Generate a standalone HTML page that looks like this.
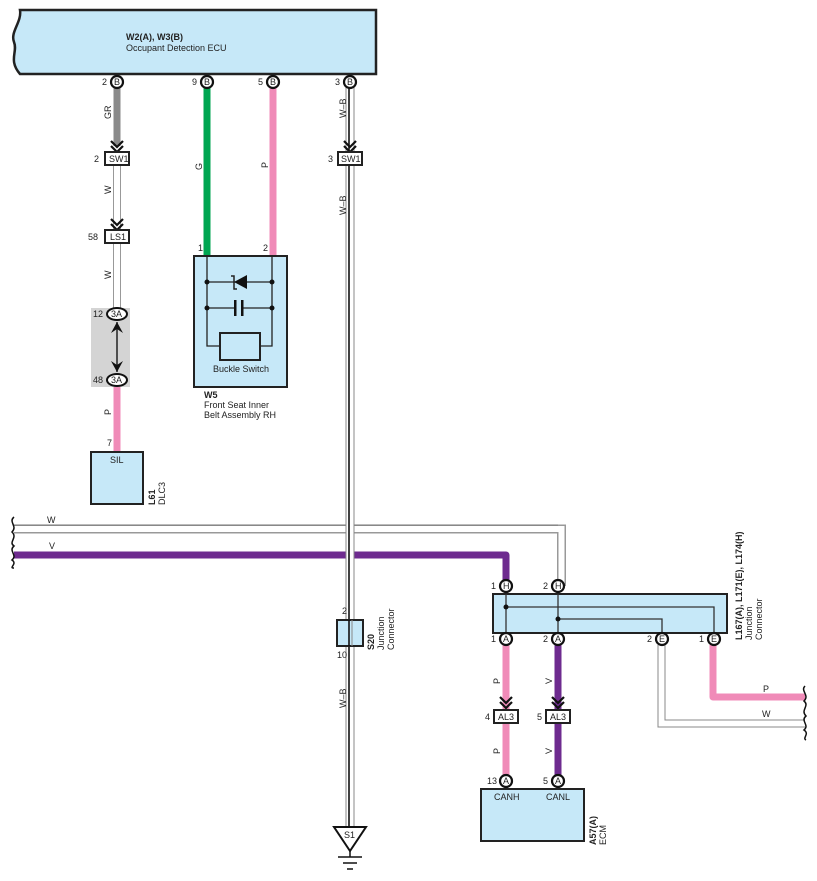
<!DOCTYPE html>
<html><head><meta charset="utf-8"><style>
html,body{margin:0;padding:0;background:#fff}
svg{display:block}
text{font-family:"Liberation Sans",sans-serif;font-size:9px;fill:#222}
.b{font-weight:bold}
</style></head><body>
<svg width="817" height="881" viewBox="0 0 817 881" xmlns="http://www.w3.org/2000/svg">
<defs>
<g id="chev"><path d="M-6,-9 L0,-3 L6,-9 M-6,-4 L0,2 L6,-4" fill="none" stroke="#111" stroke-width="2.2"/></g>
</defs>

<!-- ECU -->
<path d="M20,10 L376,10 L376,74 L20,74 C8,60 18,52 14,42 C10,32 22,22 20,10 Z" fill="#c6e8f8" stroke="#222" stroke-width="2.5"/>
<text x="126" y="40" class="b">W2(A), W3(B)</text>
<text x="126" y="51">Occupant Detection ECU</text>

<!-- GR wire -->
<line x1="117" y1="86" x2="117" y2="146" stroke="#8a8a8a" stroke-width="7"/>
<use href="#chev" x="117" y="150"/>
<!-- W wires -->
<line x1="117" y1="165" x2="117" y2="308" stroke="#999" stroke-width="8"/>
<line x1="117" y1="165" x2="117" y2="308" stroke="#fff" stroke-width="6"/>
<use href="#chev" x="117" y="228"/>
<rect x="105" y="152" width="24" height="13" fill="#fff" stroke="#222" stroke-width="2"/>
<text x="109" y="162">SW1</text><text x="94" y="162">2</text>
<rect x="105" y="230" width="24" height="13" fill="#fff" stroke="#222" stroke-width="2"/>
<text x="110" y="240">LS1</text><text x="88" y="240">58</text>
<text transform="translate(111,119) rotate(-90)">GR</text>
<text transform="translate(111,194) rotate(-90)">W</text>
<text transform="translate(111,279) rotate(-90)">W</text>

<!-- 3A -->
<rect x="91" y="308" width="39" height="79" fill="#d4d4d4"/>
<line x1="117" y1="322" x2="117" y2="372" stroke="#222" stroke-width="1.5"/>
<path d="M111,333 L117,322 L123,333 L117,329 Z" fill="#111"/>
<path d="M111,361 L117,372 L123,361 L117,365 Z" fill="#111"/>
<ellipse cx="117" cy="314" rx="10" ry="6" fill="#fff" stroke="#111" stroke-width="2"/>
<text x="111" y="317" font-size="8">3A</text><text x="93" y="317">12</text>
<ellipse cx="117" cy="380" rx="10" ry="6" fill="#fff" stroke="#111" stroke-width="2"/>
<text x="111" y="383" font-size="8">3A</text><text x="93" y="383">48</text>
<line x1="117" y1="387" x2="117" y2="452" stroke="#f08bb8" stroke-width="7"/>
<text transform="translate(111,415) rotate(-90)">P</text>
<text x="107" y="446">7</text>
<rect x="91" y="452" width="52" height="52" fill="#c6e8f8" stroke="#222" stroke-width="2"/>
<text x="110" y="463">SIL</text>
<text transform="translate(155,505) rotate(-90)" class="b">L61</text>
<text transform="translate(165,505) rotate(-90)">DLC3</text>

<!-- G and P to W5 -->
<line x1="207" y1="86" x2="207" y2="256" stroke="#00a651" stroke-width="7"/>
<line x1="273" y1="86" x2="273" y2="256" stroke="#f08bb8" stroke-width="7"/>
<text transform="translate(202,170) rotate(-90)">G</text>
<text transform="translate(268,168) rotate(-90)">P</text>
<text x="198" y="251">1</text><text x="263" y="251">2</text>
<rect x="194" y="256" width="93" height="131" fill="#c6e8f8" stroke="#222" stroke-width="2"/>
<g stroke="#222" stroke-width="1.3" fill="none">
<path d="M207,256 V346 H220 M272,256 V346 H260"/>
<line x1="207" y1="282" x2="272" y2="282"/>
<line x1="207" y1="308" x2="235" y2="308"/><line x1="243" y1="308" x2="272" y2="308"/>
<rect x="220" y="333" width="40" height="27" stroke-width="2"/>
<path d="M231,276 L234,276 L234,289 L237,289" stroke-width="1.5"/>
</g>
<path d="M234,282 L247,275 L247,289 Z" fill="#111"/>
<rect x="234" y="300" width="2.5" height="16" fill="#111"/><rect x="241" y="300" width="2.5" height="16" fill="#111"/>
<g fill="#111"><circle cx="207" cy="282" r="2.5"/><circle cx="272" cy="282" r="2.5"/><circle cx="207" cy="308" r="2.5"/><circle cx="272" cy="308" r="2.5"/></g>
<text x="213" y="372">Buckle Switch</text>
<text x="204" y="398" class="b">W5</text>
<text x="204" y="408">Front Seat Inner</text>
<text x="204" y="418">Belt Assembly RH</text>

<!-- horizontal W and V -->
<path d="M14,529 H561.5 V586" fill="none" stroke="#999" stroke-width="9"/>
<path d="M14,529 H561.5 V586" fill="none" stroke="#fff" stroke-width="6"/>
<line x1="14" y1="525" x2="558" y2="525" stroke="#777" stroke-width="1"/>
<path d="M14,555 H506 V586" fill="none" stroke="#6e2b8f" stroke-width="7" stroke-linejoin="round"/>
<text x="47" y="523">W</text><text x="49" y="549">V</text>
<path d="M14,517 C8,522 18,526 12,532 C18,538 8,542 14,546 C8,551 18,555 12,560 C18,564 8,568 14,568" fill="none" stroke="#111" stroke-width="1.5"/>

<!-- W-B wire -->
<line x1="350" y1="86" x2="350" y2="828" stroke="#888" stroke-width="9"/>
<line x1="350" y1="86" x2="350" y2="828" stroke="#fff" stroke-width="7"/>
<line x1="349" y1="86" x2="349" y2="828" stroke="#111" stroke-width="1.6"/>
<use href="#chev" x="350" y="150"/>
<rect x="338" y="152" width="24" height="13" fill="#fff" stroke="#222" stroke-width="2"/>
<text x="341" y="162">SW1</text><text x="328" y="162">3</text>
<text transform="translate(346,118) rotate(-90)">W–B</text>
<text transform="translate(346,215) rotate(-90)">W–B</text>
<text transform="translate(346,708) rotate(-90)">W–B</text>
<rect x="337" y="620" width="26" height="26" fill="#c6e8f8" stroke="#222" stroke-width="2"/>
<line x1="349" y1="620" x2="349" y2="646" stroke="#111" stroke-width="1.6"/>
<line x1="352" y1="620" x2="352" y2="646" stroke="#888" stroke-width="1"/>
<text x="342" y="614">2</text><text x="337" y="658">10</text>
<text transform="translate(374,650) rotate(-90)" class="b">S20</text>
<text transform="translate(384,650) rotate(-90)">Junction</text>
<text transform="translate(394,650) rotate(-90)">Connector</text>
<path d="M334,827 L366,827 L350,851 Z" fill="#fff" stroke="#111" stroke-width="2"/>
<text x="344" y="838">S1</text>
<g stroke="#111" stroke-width="1.5"><line x1="350" y1="851" x2="350" y2="857"/><line x1="338" y1="857" x2="362" y2="857"/><line x1="343" y1="863" x2="357" y2="863"/><line x1="347" y1="869" x2="353" y2="869"/></g>

<!-- top pins -->
<g fill="#fff" stroke="#111" stroke-width="2.2">
<circle cx="117" cy="82" r="6"/><circle cx="207" cy="82" r="6"/><circle cx="273" cy="82" r="6"/><circle cx="350" cy="82" r="6"/>
</g>
<g font-size="8"><text x="114" y="85">B</text><text x="204" y="85">B</text><text x="270" y="85">B</text><text x="347" y="85">B</text></g>
<text x="102" y="85">2</text><text x="192" y="85">9</text><text x="258" y="85">5</text><text x="335" y="85">3</text>

<!-- Junction connector L167 -->
<rect x="493" y="594" width="234" height="39" fill="#c6e8f8" stroke="#222" stroke-width="2"/>
<g stroke="#333" stroke-width="1.3" fill="none">
<line x1="506" y1="594" x2="506" y2="633"/><line x1="558" y1="594" x2="558" y2="633"/>
<path d="M506,607 H714 V633"/><path d="M558,619 H662 V633"/>
</g>
<circle cx="506" cy="607" r="2.5" fill="#111"/><circle cx="558" cy="619" r="2.5" fill="#111"/>
<text transform="translate(742,640) rotate(-90)" class="b">L167(A), L171(E), L174(H)</text>
<text transform="translate(752,640) rotate(-90)">Junction</text>
<text transform="translate(762,640) rotate(-90)">Connector</text>

<!-- lower wires -->
<line x1="506" y1="645" x2="506" y2="781" stroke="#f08bb8" stroke-width="7"/>
<line x1="558" y1="645" x2="558" y2="781" stroke="#6e2b8f" stroke-width="7"/>
<use href="#chev" x="506" y="706"/><use href="#chev" x="558" y="706"/>
<rect x="494" y="710" width="24" height="13" fill="#fff" stroke="#222" stroke-width="2"/>
<text x="498" y="720">AL3</text><text x="485" y="720">4</text>
<rect x="546" y="710" width="24" height="13" fill="#fff" stroke="#222" stroke-width="2"/>
<text x="550" y="720">AL3</text><text x="537" y="720">5</text>
<text transform="translate(500,684) rotate(-90)">P</text>
<text transform="translate(552,684) rotate(-90)">V</text>
<text transform="translate(500,754) rotate(-90)">P</text>
<text transform="translate(552,754) rotate(-90)">V</text>

<path d="M661.5,645 V723.5 H805" fill="none" stroke="#888" stroke-width="8"/>
<path d="M661.5,645 V723.5 H805" fill="none" stroke="#fff" stroke-width="6"/>
<path d="M713,645 V697 H805" fill="none" stroke="#f08bb8" stroke-width="7" stroke-linejoin="round"/>
<text x="763" y="692">P</text><text x="762" y="717">W</text>
<path d="M805,686 C800,691 810,695 804,701 C810,706 800,710 806,716 C800,721 810,725 804,730 C810,734 802,738 806,740" fill="none" stroke="#111" stroke-width="1.5"/>

<!-- pins -->
<g fill="#fff" stroke="#111" stroke-width="2.2">
<circle cx="506" cy="586" r="6"/><circle cx="558" cy="586" r="6"/>
<circle cx="506" cy="639" r="6"/><circle cx="558" cy="639" r="6"/><circle cx="662" cy="639" r="6"/><circle cx="714" cy="639" r="6"/>
<circle cx="506" cy="781" r="6"/><circle cx="558" cy="781" r="6"/>
</g>
<g font-size="8">
<text x="503" y="589">H</text><text x="555" y="589">H</text>
<text x="503" y="642">A</text><text x="555" y="642">A</text><text x="659" y="642">E</text><text x="711" y="642">E</text>
<text x="503" y="784">A</text><text x="555" y="784">A</text>
</g>
<text x="491" y="589">1</text><text x="543" y="589">2</text>
<text x="491" y="642">1</text><text x="543" y="642">2</text><text x="647" y="642">2</text><text x="699" y="642">1</text>
<text x="487" y="784">13</text><text x="543" y="784">5</text>

<rect x="481" y="789" width="103" height="52" fill="#c6e8f8" stroke="#222" stroke-width="2"/>
<text x="494" y="800">CANH</text><text x="546" y="800">CANL</text>
<text transform="translate(596,845) rotate(-90)" class="b">A57(A)</text>
<text transform="translate(606,845) rotate(-90)">ECM</text>
</svg>
</body></html>
